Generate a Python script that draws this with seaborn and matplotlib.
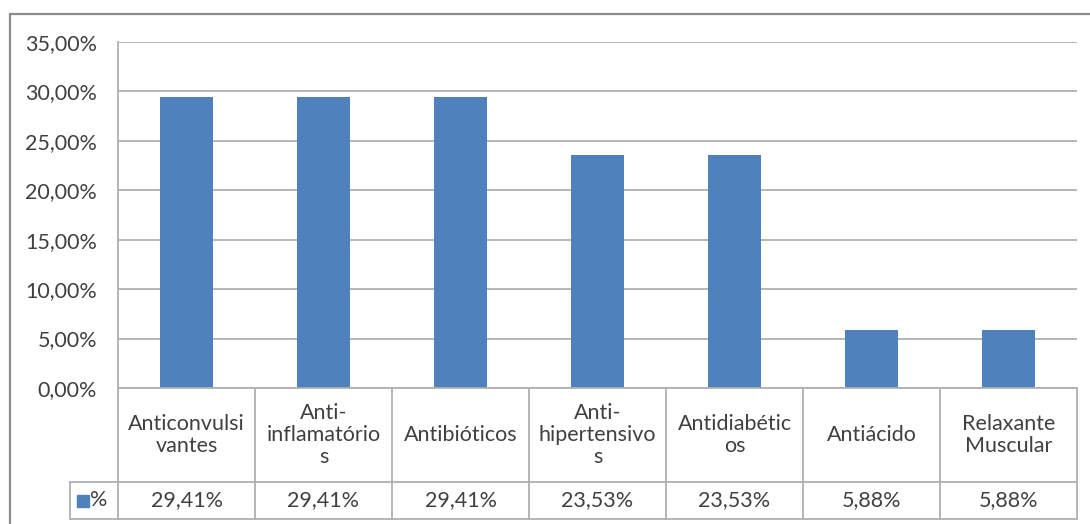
import matplotlib
matplotlib.use("Agg")
import matplotlib.pyplot as plt
from matplotlib.lines import Line2D
from matplotlib.patches import Rectangle
from matplotlib.ticker import FuncFormatter, MultipleLocator
import seaborn as sns

# Drug classes, their share (%) and the wrapped header text of the data table
categories = ["Anticonvulsivantes", "Anti-inflamatórios", "Antibióticos",
              "Anti-hipertensivos", "Antidiabéticos", "Antiácido",
              "Relaxante Muscular"]
header_labels = ["Anticonvulsi\nvantes", "Anti-\ninflamatório\ns", "Antibióticos",
                 "Anti-\nhipertensivo\ns", "Antidiabétic\nos", "Antiácido",
                 "Relaxante\nMuscular"]
values = [29.41, 29.41, 29.41, 23.53, 23.53, 5.88, 5.88]
series_name = "%"

BAR = "#4F81BD"
TEXT = "#404040"
GRID = "#B0B0B0"
FS = 15.5

sns.set_theme(style="white")
plt.rcParams["font.family"] = ["Lato", "DejaVu Sans"]

W, H = 1090, 524
fig = plt.figure(figsize=(W / 100, H / 100), dpi=100)

# plot area in pixel terms
left, right, top, bottom = 118, 1077, 42, 388
ax = fig.add_axes([left / W, 1 - bottom / H, (right - left) / W, (bottom - top) / H])

sns.barplot(x=categories, y=values, color=BAR, width=0.39, saturation=1,
            edgecolor="none", ax=ax)

ax.set_xlim(-0.5, len(categories) - 0.5)
ax.set_ylim(0, 35)
ax.yaxis.set_major_locator(MultipleLocator(5))
ax.yaxis.set_major_formatter(FuncFormatter(lambda v, p: f"{v:.2f}%".replace(".", ",")))
ax.tick_params(axis="y", labelsize=FS, labelcolor=TEXT, length=0, pad=15)
ax.set_xticks([])
ax.set_xlabel("")
ax.set_ylabel("")
ax.grid(axis="y", color=GRID, linewidth=1.3)
ax.set_axisbelow(True)
for s in ("top", "right", "bottom"):
    ax.spines[s].set_visible(False)
ax.spines["left"].set_color(GRID)
ax.spines["left"].set_linewidth(1.3)

# data table underneath the bars (axes-fraction coordinates)
ph = bottom - top
pw = right - left
row1 = -(482 - bottom) / ph
row2 = -(519 - bottom) / ph
leg_x = (70 - left) / pw
n = len(categories)

def hline(y, x0, x1):
    ax.add_line(Line2D([x0, x1], [y, y], transform=ax.transAxes, color=GRID,
                       lw=1.3, clip_on=False))

def vline(x, y0, y1):
    ax.add_line(Line2D([x, x], [y0, y1], transform=ax.transAxes, color=GRID,
                       lw=1.3, clip_on=False))

hline(0, 0, 1)
hline(row1, leg_x, 1)
hline(row2, leg_x, 1)
for i in range(n + 1):
    vline(i / n, row2, 0)
vline(leg_x, row2, row1)

for i, (lab, v) in enumerate(zip(header_labels, values)):
    xc = (i + 0.5) / n
    ax.text(xc, row1 / 2, lab, transform=ax.transAxes, ha="center", va="center",
            fontsize=FS, color=TEXT, linespacing=1.12)
    ax.text(xc, (row1 + row2) / 2, f"{v:.2f}%".replace(".", ","),
            transform=ax.transAxes, ha="center", va="center", fontsize=FS,
            color=TEXT)

# legend key in the value row
ymid = (row1 + row2) / 2
sq_w = 12 / pw
sq_h = 12 / ph
ax.add_patch(Rectangle((leg_x + 7 / pw, ymid - sq_h / 2), sq_w, sq_h,
                       transform=ax.transAxes, color=BAR, clip_on=False))
ax.text(leg_x + 20 / pw, ymid, series_name, transform=ax.transAxes, ha="left",
        va="center", fontsize=FS, color=TEXT)

# outer chart frame
fig.add_artist(Rectangle((10 / W, -0.05), 1.2, 1 - 14 / H + 0.05,
                         transform=fig.transFigure, fill=False,
                         edgecolor="#8C8C8C", lw=1.6))

fig.savefig("out.png", dpi=100)
